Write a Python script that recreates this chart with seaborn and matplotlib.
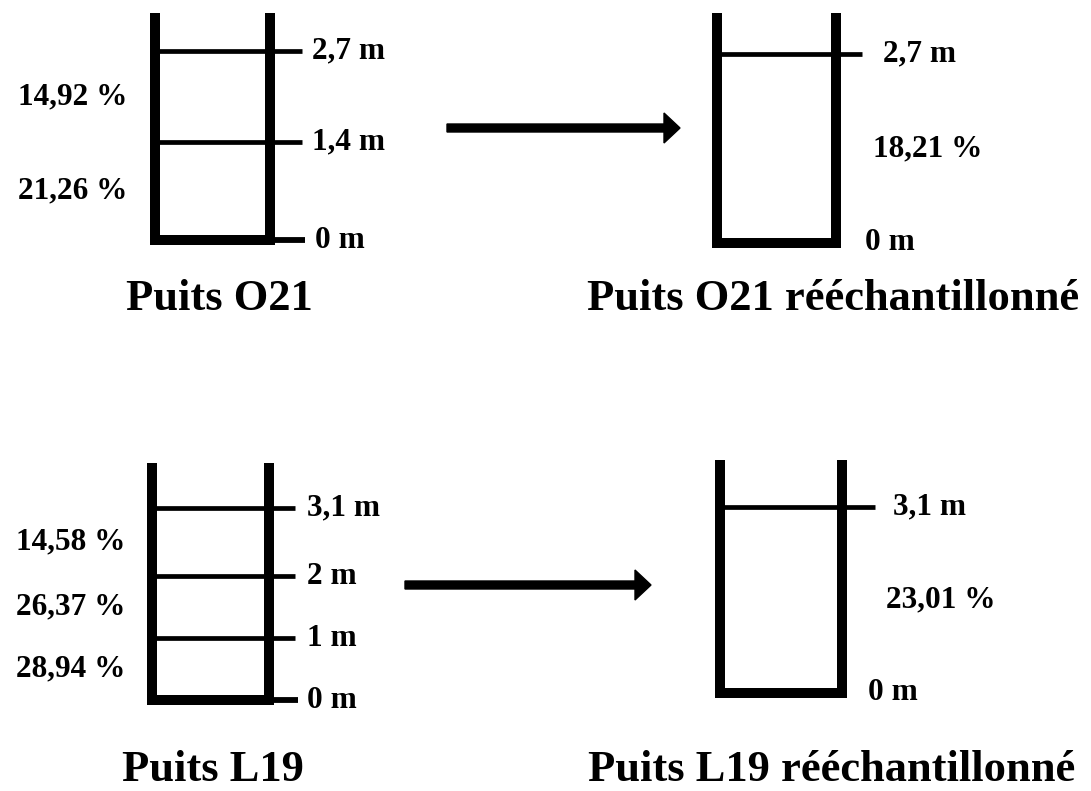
import matplotlib
matplotlib.use("Agg")
import matplotlib.pyplot as plt
import seaborn as sns
from matplotlib.patches import FancyArrow

sns.set_theme(style="white")
plt.rcParams["font.family"] = ["Liberation Serif", "DejaVu Serif"]
plt.rcParams["font.weight"] = "bold"
plt.rcParams["text.color"] = "black"

# ---------------- data ----------------
well_titles = ["Puits O21", "Puits O21 rééchantillonné",
               "Puits L19", "Puits L19 rééchantillonné"]
o21_depths = [0.0, 1.4, 2.7]          # m, layer boundaries
o21_porosity = [21.26, 14.92]         # %, layer values bottom -> top
o21r_depths = [0.0, 2.7]
o21r_porosity = [18.21]
l19_depths = [0.0, 1.0, 2.0, 3.1]
l19_porosity = [28.94, 26.37, 14.58]
l19r_depths = [0.0, 3.1]
l19r_porosity = [23.01]

depth_sets = [o21_depths, o21r_depths, l19_depths, l19r_depths]
poro_sets = [o21_porosity, o21r_porosity, l19_porosity, l19r_porosity]

# ---------------- layout (pixels of a 1091x791 canvas) ----------------
W, H = 1091, 791
layout = [
    dict(left=155, right=270, bottom=240, top=13, ppm=70, ext=302, bottom_ext=305,
         poro_x=73, depth_x=312, zero_x=315, title=(219, 310)),
    dict(left=717, right=836, bottom=243, top=13, ppm=70, ext=862, bottom_ext=None,
         poro_x=928, depth_x=883, zero_x=865, title=(833, 310)),
    dict(left=152, right=269, bottom=700, top=463, ppm=62, ext=295, bottom_ext=298,
         poro_x=71, depth_x=307, zero_x=307, title=(213, 781)),
    dict(left=720, right=842, bottom=693, top=460, ppm=60, ext=875, bottom_ext=None,
         poro_x=941, depth_x=893, zero_x=868, title=(832, 781)),
]
arrows = [dict(x0=447, x1=680, y=128), dict(x0=405, x1=651, y=585)]

fig = plt.figure(figsize=(W / 100, H / 100), dpi=100)
fig.patch.set_facecolor("white")


def fmt_depth(d):
    return f"{d:g}".replace(".", ",") + " m"


def fmt_poro(p):
    return f"{p:.2f}".replace(".", ",") + " %"


label_fs = 22.5
title_fs = 32
wall_lw = 7.2
line_lw = 3.4

for title, depths, poros, L in zip(well_titles, depth_sets, poro_sets, layout):
    wpx = L["right"] - L["left"]
    hpx = L["bottom"] - L["top"]
    ax = fig.add_axes([L["left"] / W, (H - L["bottom"]) / H, wpx / W, hpx / H])
    top_m = hpx / L["ppm"]
    ax.set_xlim(0, 1)
    ax.set_ylim(0, top_m)
    ax.set_axis_off()

    def u(px):
        return (px - L["left"]) / wpx

    kw = dict(color="black", clip_on=False)
    # walls
    ax.plot([0, 0], [0, top_m], lw=wall_lw, solid_capstyle="butt", **kw)
    ax.plot([1, 1], [0, top_m], lw=wall_lw, solid_capstyle="butt", **kw)
    ax.plot([0, 1], [0, 0], lw=wall_lw, solid_capstyle="projecting", **kw)
    if L["bottom_ext"] is not None:
        ax.plot([1, u(L["bottom_ext"])], [0, 0], lw=4.2, solid_capstyle="butt", **kw)
    # layer boundaries
    for d in depths[1:]:
        ax.plot([0, u(L["ext"])], [d, d], lw=line_lw, solid_capstyle="butt", **kw)
    # depth labels
    for d in depths:
        x = u(L["zero_x"]) if d == 0 else u(L["depth_x"])
        ax.text(x, d, fmt_depth(d), ha="left", va="center",
                fontsize=label_fs, fontweight="bold", clip_on=False)
    # porosity labels at layer mid-depth
    for i, p in enumerate(poros):
        mid = (depths[i] + depths[i + 1]) / 2
        ax.text(u(L["poro_x"]), mid, fmt_poro(p), ha="center", va="center",
                fontsize=label_fs, fontweight="bold", clip_on=False)
    tx, ty = L["title"]
    fig.text(tx / W, 1 - ty / H, title, ha="center", va="baseline",
             fontsize=title_fs, fontweight="bold")

# overlay for arrows, in pixel units
ov = fig.add_axes([0, 0, 1, 1], facecolor="none")
ov.set_xlim(0, W)
ov.set_ylim(H, 0)
ov.set_axis_off()
for a in arrows:
    ov.add_patch(FancyArrow(a["x0"], a["y"], a["x1"] - a["x0"], 0, width=8,
                            head_width=30, head_length=16,
                            length_includes_head=True, color="black"))

fig.savefig("out.png", dpi=100, facecolor="white")
